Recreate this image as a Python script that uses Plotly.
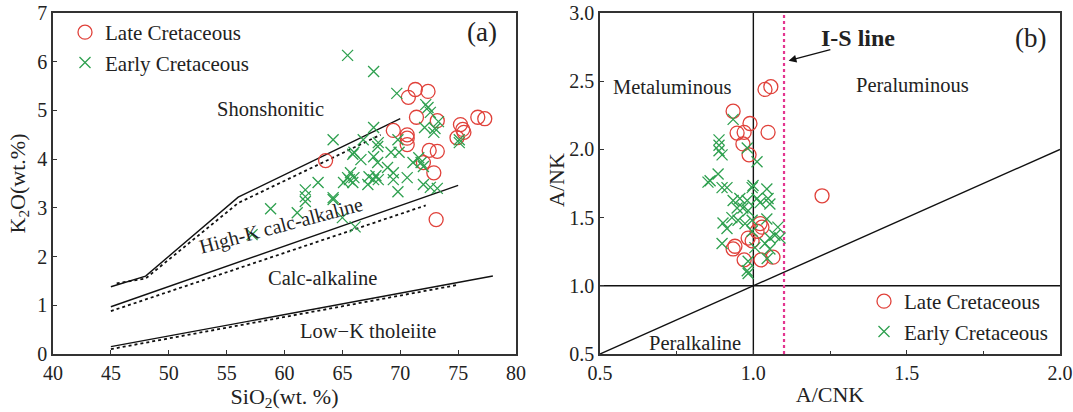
import plotly.graph_objects as go

# ---------------- Panel (a) data: SiO2 vs K2O ----------------
late_a_sio2 = [63.55, 71.3, 72.4, 70.7, 71.4, 73.2, 69.4, 70.6, 70.6, 70.6, 76.7, 77.3,
               75.2, 75.4, 75.5, 74.9, 72.5, 73.2, 72.0, 72.9, 73.1]
late_a_k2o = [3.97, 5.43, 5.39, 5.27, 4.86, 4.79, 4.59, 4.50, 4.43, 4.30, 4.86, 4.83,
              4.71, 4.61, 4.55, 4.44, 4.18, 4.16, 3.93, 3.72, 2.76]

early_a_sio2 = [65.45, 67.7, 69.7, 72.2, 72.4, 72.6, 72.1, 73.0, 73.3, 72.9, 67.7, 64.2,
                66.8, 68.1, 69.8, 75.1, 75.1, 68.05, 69.9, 69.2, 65.9, 66.0, 67.7, 66.6,
                68.05, 68.9, 71.1, 71.6, 72.0, 71.8, 65.7, 65.45, 66.0, 65.1, 65.9, 65.6,
                67.3, 67.7, 68.1, 67.2, 67.9, 69.4, 69.4, 70.6, 69.8, 72.0, 72.6, 73.2,
                64.2, 65.0, 66.1, 62.9, 61.8, 61.8, 61.8, 64.2, 58.8, 61.1, 57.2]
early_a_k2o = [6.13, 5.80, 5.35, 5.12, 5.06, 4.96, 4.65, 4.63, 4.77, 4.55, 4.65, 4.40,
               4.40, 4.34, 4.40, 4.40, 4.34, 4.26, 4.14, 4.14, 4.10, 4.14, 4.05, 3.99,
               3.93, 3.83, 3.93, 4.03, 3.85, 3.93, 3.72, 3.62, 3.62, 3.52, 3.52, 3.58,
               3.64, 3.58, 3.58, 3.48, 3.66, 3.72, 3.58, 3.62, 3.33, 3.48, 3.42, 3.40,
               3.21, 2.80, 2.61, 3.52, 3.37, 3.23, 3.13, 3.17, 2.98, 2.90, 2.45]

# classification boundaries (solid) and alternative boundaries (dotted)
shosh_x = [45, 48, 56, 70]
shosh_y = [1.38, 1.60, 3.22, 4.83]
highk_x = [45, 75]
highk_y = [0.97, 3.46]
lowk_x = [45, 78]
lowk_y = [0.15, 1.60]
shosh_dot_x = [45.5, 48, 56, 68.3]
shosh_dot_y = [1.45, 1.55, 3.10, 4.50]
highk_dot_x = [45, 72.2]
highk_dot_y = [0.88, 3.05]
lowk_dot_x = [45, 75]
lowk_dot_y = [0.10, 1.42]

# ---------------- Panel (b) data: A/CNK vs A/NK ----------------
late_b_acnk = [1.038, 1.057, 0.934, 0.989, 0.947, 0.970, 1.048, 0.966, 0.986, 1.022,
               1.028, 1.012, 0.983, 0.996, 0.940, 0.934, 0.970, 1.025, 1.064, 1.224]
late_b_ank = [2.44, 2.46, 2.28, 2.19, 2.12, 2.125, 2.125, 2.04, 1.96, 1.456,
              1.43, 1.40, 1.35, 1.33, 1.29, 1.27, 1.19, 1.19, 1.21, 1.66]

early_b_acnk = [0.934, 0.888, 0.888, 0.888, 0.898, 0.980, 1.012, 0.885, 0.859, 0.914,
                0.898, 0.996, 1.044, 0.852, 0.999, 0.956, 0.934, 0.980, 1.012, 1.022,
                1.048, 1.054, 0.947, 0.966, 0.983, 0.901, 0.930, 0.950, 0.973, 0.996,
                1.044, 0.898, 0.914, 1.080, 1.070, 1.087, 1.054, 1.038, 1.054, 0.983,
                0.980, 0.996, 1.005, 0.983, 1.045]
early_b_ank = [2.22, 2.07, 2.03, 1.99, 1.96, 2.01, 1.91, 1.82, 1.77, 1.72,
               1.72, 1.72, 1.71, 1.76, 1.735, 1.64, 1.625, 1.625, 1.64, 1.61,
               1.64, 1.60, 1.57, 1.57, 1.55, 1.46, 1.50, 1.48, 1.456, 1.48,
               1.49, 1.31, 1.42, 1.43, 1.37, 1.35, 1.35, 1.31, 1.27, 1.18,
               1.11, 1.40, 1.28, 1.09, 1.20]

meta_x = [1.0, 1.0]
meta_y = [0.5, 3.0]
peralk_x = [0.5, 2.0]
peralk_y = [1.0, 1.0]
diag_x = [0.5, 2.0]
diag_y = [0.5, 2.0]
is_x = [1.1, 1.1]
is_y = [0.5, 3.0]

SERIF = "Liberation Serif"
RED = "#e0413a"
GREEN = "#2ea04f"
INK = "#222222"

fig = go.Figure()

def line(x, y, xa, ya, dash="solid", color="#111111", width=1.4):
    fig.add_trace(go.Scatter(x=x, y=y, xaxis=xa, yaxis=ya, mode="lines",
                             line=dict(color=color, width=width, dash=dash),
                             showlegend=False, hoverinfo="skip"))

# panel (a) lines
line(shosh_x, shosh_y, "x", "y")
line(highk_x, highk_y, "x", "y")
line(lowk_x, lowk_y, "x", "y")
line(shosh_dot_x, shosh_dot_y, "x", "y", dash="dot", width=1.8)
line(highk_dot_x, highk_dot_y, "x", "y", dash="dot", width=1.8)
line(lowk_dot_x, lowk_dot_y, "x", "y", dash="dot", width=1.8)

# panel (b) lines
line(meta_x, meta_y, "x2", "y2")
line(peralk_x, peralk_y, "x2", "y2")
line(diag_x, diag_y, "x2", "y2")
line(is_x, is_y, "x2", "y2", dash="dot", color="#e3358f", width=2.2)

circ = dict(symbol="circle-open", size=14, color=RED, line=dict(width=1.3, color=RED))
cross = dict(symbol="x-thin-open", size=11, color=GREEN, line=dict(width=1.3, color=GREEN))

fig.add_trace(go.Scatter(x=late_a_sio2, y=late_a_k2o, xaxis="x", yaxis="y", mode="markers",
                         marker=circ, name="Late Cretaceous", legend="legend",
                         legendgroup="la"))
fig.add_trace(go.Scatter(x=early_a_sio2, y=early_a_k2o, xaxis="x", yaxis="y", mode="markers",
                         marker=cross, name="Early Cretaceous", legend="legend",
                         legendgroup="ea"))
fig.add_trace(go.Scatter(x=late_b_acnk, y=late_b_ank, xaxis="x2", yaxis="y2", mode="markers",
                         marker=circ, name="Late Cretaceous", legend="legend2",
                         legendgroup="lb"))
fig.add_trace(go.Scatter(x=early_b_acnk, y=early_b_ank, xaxis="x2", yaxis="y2", mode="markers",
                         marker=cross, name="Early Cretaceous", legend="legend2",
                         legendgroup="eb"))

ax_common = dict(showline=True, mirror=True, linecolor="#333333", linewidth=1.5,
                 showgrid=False, zeroline=False, ticks="inside", ticklen=4, automargin=False,
                 tickcolor="#333333", tickfont=dict(family=SERIF, size=20, color=INK))
title_font = dict(family=SERIF, size=22, color=INK)

fig.update_layout(
    width=1073, height=412, margin=dict(l=0, r=0, t=0, b=0, autoexpand=False),
    paper_bgcolor="white", plot_bgcolor="white",
    font=dict(family=SERIF, color=INK),
    xaxis=dict(domain=[0.0494, 0.4809], range=[40, 80], dtick=5, anchor="y",
               title=dict(text="SiO<sub>2</sub>(wt. %)", font=title_font, standoff=4),
               **ax_common),
    yaxis=dict(domain=[0.1408, 0.9684], range=[0, 7], dtick=1, anchor="x",
               title=dict(text="K<sub>2</sub>O(wt.%)", font=title_font, standoff=6),
               **ax_common),
    xaxis2=dict(domain=[0.5592, 0.9879], range=[0.5, 2.0], dtick=0.5, tickformat=".1f",
                anchor="y2",
                minor=dict(ticks="inside", ticklen=3, dtick=0.25, tickcolor="#333333"),
                title=dict(text="A/CNK", font=title_font, standoff=4),
                **ax_common),
    yaxis2=dict(domain=[0.1408, 0.9684], range=[0.5, 3.0], dtick=0.5, tickformat=".1f",
                anchor="x2", **ax_common),
    legend=dict(x=65 / 1073, y=1 - 12 / 412, xanchor="left", yanchor="top",
                font=dict(family=SERIF, size=21, color=INK), bgcolor="rgba(0,0,0,0)",
                traceorder="grouped", tracegroupgap=0),
    legend2=dict(x=864 / 1073, y=1 - 281 / 412, xanchor="left", yanchor="top",
                 font=dict(family=SERIF, size=21, color=INK), bgcolor="rgba(0,0,0,0)",
                 traceorder="grouped", tracegroupgap=0),
    showlegend=True,
)

ann = []
def text(t, x, y, xr, yr, size=20.5, angle=0, bold=False):
    ann.append(dict(text=("<b>%s</b>" % t) if bold else t, x=x, y=y, xref=xr, yref=yr,
                    showarrow=False, textangle=angle,
                    font=dict(family=SERIF, size=size, color=INK)))

text("Shonshonitic", 58.8, 5.02, "x", "y")
text("High-K calc-alkaline", 59.74, 2.63, "x", "y", size=20, angle=-15)
text("Calc-alkaline", 63.3, 1.56, "x", "y")
text("Low\u2212K tholeiite", 67.2, 0.47, "x", "y")
text("(a)", 77.1, 6.6, "x", "y", size=27)
text("Metaluminous", 0.735, 2.456, "x2", "y2")
text("Peraluminous", 1.52, 2.47, "x2", "y2")
text("Peralkaline", 0.81, 0.58, "x2", "y2")
text("I-S line", 1.341, 2.82, "x2", "y2", size=24, bold=True)
text("(b)", 1.905, 2.82, "x2", "y2", size=27)
# y-axis title of panel (b), sitting between the tick labels as in the reference
text("A/NK", 556 / 1073, 1 - 180 / 412, "paper", "paper", size=22, angle=-90)
ann.append(dict(x=1.115, y=2.65, ax=1.256, ay=2.735, xref="x2", yref="y2", axref="x2", ayref="y2",
                showarrow=True, arrowhead=2, arrowsize=1.2, arrowwidth=1.3, arrowcolor="#111111",
                text=""))
fig.update_layout(annotations=ann)

fig.write_html("out.html")
